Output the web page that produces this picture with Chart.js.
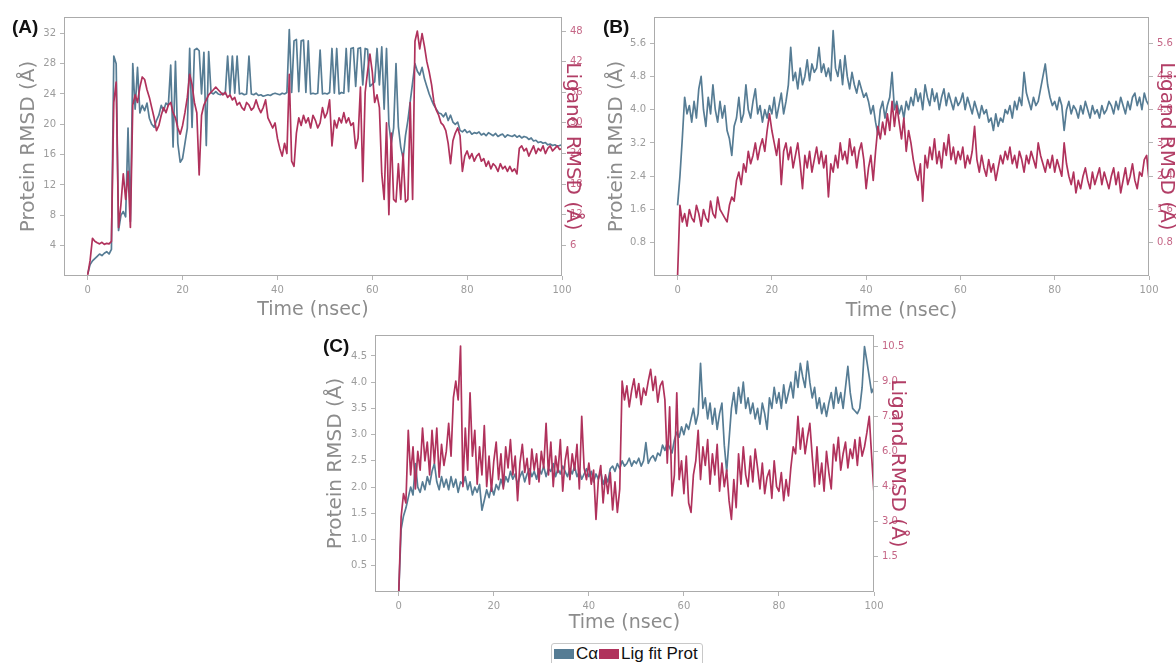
<!DOCTYPE html>
<html>
<head>
<meta charset="utf-8">
<script src="https://cdn.jsdelivr.net/npm/chart.js@4.4.1/dist/chart.umd.min.js"></script>
<style>
  html, body { margin: 0; padding: 0; background: #fff; overflow: hidden; }
  body { width: 1176px; height: 663px; position: relative; }
  .panel { position: absolute; }
  .tag { position: absolute; font: bold 19px 'Liberation Sans', Arial, sans-serif; line-height: 19px; color: #111; }
  #legend {
    position: absolute; left: 551px; top: 643px; height: 24px;
    border: 1px solid #c8c8c8; border-radius: 3px; background: #fff;
    padding: 1px 4px 0 1px; white-space: nowrap;
    font: 17px 'Liberation Sans', Arial, sans-serif; line-height: 17px; color: #111;
  }
  #legend .sw { display: inline-block; width: 20px; height: 10px; margin: 0 2px 0 1px; }
</style>
</head>
<body>
<div class="panel" style="left:0;top:0;width:590px;height:325px"><canvas id="chartA"></canvas></div>
<div class="panel" style="left:590px;top:0;width:590px;height:325px"><canvas id="chartB"></canvas></div>
<div class="panel" style="left:311px;top:325px;width:600px;height:315px"><canvas id="chartC"></canvas></div>
<div class="tag" style="left:12px;top:17px">(A)</div>
<div class="tag" style="left:603px;top:17px">(B)</div>
<div class="tag" style="left:323px;top:336px">(C)</div>
<div id="legend"><span class="sw" style="background:rgb(86,124,148)"></span>Cα<span class="sw" style="background:rgb(176,50,92)"></span>Lig fit Prot</div>

<script>
// frames sampled every 0.5 ns, 0 .. 100 ns
var TIME_STEP = 0.5;
var xTickValues = [0, 20, 40, 60, 80, 100];

// (A) Protein C-alpha RMSD (left axis) and ligand RMSD (right axis)
var panelATicksLeft = [4, 8, 12, 16, 20, 24, 28, 32];
var panelATicksRight = [6, 12, 18, 24, 30, 36, 42, 48];
var panelACa = [
  0.3, 1.5, 2.0, 2.3, 2.6, 2.9, 2.7, 3.0, 3.2, 2.9, 3.5, 29.0, 28.0, 6.0, 8.0, 8.5, 7.8, 19.5, 7.2, 28.0,
  22.0, 27.5, 21.5, 22.5, 21.8, 22.8, 20.8, 20.0, 19.6, 20.5, 21.2, 22.5, 21.8, 22.8, 22.5, 27.8, 17.0, 28.3, 17.5, 15.0,
  15.5, 17.5, 19.5, 30.0, 19.6, 29.8, 30.0, 29.7, 24.0, 29.5, 17.2, 29.6, 24.2, 24.0, 24.3, 24.0, 23.9, 24.1, 24.0, 29.0,
  24.0, 29.0, 24.1, 29.0, 24.0, 24.1, 23.9, 24.0, 29.0, 24.0, 23.9, 24.1, 23.8, 23.9, 23.7, 23.8, 23.9, 23.8, 24.0, 24.1,
  24.0, 23.9, 24.1, 24.0, 24.2, 32.5, 24.2, 31.0, 31.2, 24.3, 31.0, 31.1, 24.2, 31.0, 24.0, 24.1, 24.0, 24.1, 29.8, 24.0,
  24.1, 24.0, 24.2, 30.0, 24.1, 30.0, 24.0, 24.2, 24.1, 30.0, 24.3, 30.0, 30.1, 25.0, 30.0, 30.1, 25.2, 30.0, 29.9, 25.0,
  25.3, 25.6, 30.0, 25.2, 30.2, 22.0, 30.0, 20.0, 17.5, 19.5, 28.0, 19.7, 17.0, 15.5, 18.5, 20.5, 23.0, 25.5, 28.0, 27.0,
  26.5, 27.5, 26.0, 25.0, 24.0, 23.2, 22.5, 22.0, 21.5, 21.4, 21.0, 21.5, 20.5, 21.2, 20.3, 20.0, 20.3, 19.2, 19.0, 19.3,
  18.9, 19.1, 18.7, 18.9, 18.8, 19.0, 18.6, 18.8, 18.5, 18.9, 18.7, 18.5, 18.8, 18.4, 18.6, 18.7, 18.3, 18.6, 18.5, 18.4,
  18.6, 18.3, 18.5, 18.2, 18.4, 18.3, 18.0, 18.2, 17.8, 17.9, 17.6, 17.7, 17.5, 17.6, 17.3, 17.4, 17.2, 17.3, 17.1, 17.2, 17.3
];
var panelALig = [
  0.2, 3.0, 7.4, 6.8, 6.5, 6.3, 6.6, 6.2, 6.4, 6.3, 6.8, 34.0, 38.0, 9.5, 14.0, 20.0, 15.0, 20.5, 9.5, 33.5,
  35.5, 34.0, 37.0, 39.0, 38.5, 36.5, 35.0, 33.0, 31.0, 28.5, 29.5, 31.5, 33.0, 32.0, 33.5, 34.0, 32.0, 31.0, 29.0, 27.8,
  29.5, 32.0, 35.0, 39.5, 37.5, 34.0, 32.0, 19.8, 31.5, 33.5, 34.5, 35.5, 36.0, 36.5, 37.0, 36.5, 36.0, 35.5, 36.0, 35.0,
  35.5, 34.5, 35.0, 33.5, 34.0, 33.0, 32.5, 34.0, 33.5, 32.5, 33.0, 34.5, 33.0, 32.0, 33.0, 34.5, 31.0, 30.0, 29.0, 30.0,
  27.0, 25.0, 23.5, 26.0, 24.0, 39.5, 22.5, 21.5, 28.0, 31.0, 29.5, 31.5, 30.0, 31.0, 29.0, 31.5, 30.5, 29.0, 30.0, 33.0,
  31.0, 32.0, 34.5, 25.5, 30.5, 29.0, 31.0, 30.0, 32.0, 30.0, 31.0, 29.5, 30.0, 25.0, 27.0, 37.0, 18.5, 36.0, 40.0, 43.5,
  40.0, 34.0, 35.5, 33.0, 20.0, 15.0, 30.0, 12.0, 28.0, 15.0, 14.5, 22.0, 15.0, 24.0, 14.5, 15.0, 34.0, 15.0, 46.0, 48.0,
  44.5, 47.5, 45.0, 42.0, 40.0, 37.5, 34.0, 32.5, 31.5, 30.0, 29.5, 28.5, 26.0, 22.0, 26.5, 28.0, 29.0, 27.5, 20.5, 23.5,
  24.5, 23.0, 24.0, 22.5, 23.5, 24.0, 22.5, 23.0, 21.5, 22.5, 21.0, 22.0, 21.5, 20.5, 22.0, 21.0, 21.5, 20.5, 21.5, 20.5,
  21.0, 20.0, 25.0, 25.5, 24.5, 25.0, 23.5, 24.5, 25.5, 24.0, 25.0, 24.5, 25.5, 24.0, 25.0, 25.5, 24.5, 25.0, 25.5, 24.8, 25.0
];

// (B)
var panelBTicks = [0.8, 1.6, 2.4, 3.2, 4.0, 4.8, 5.6];
var panelBCa = [
  1.7, 2.4, 3.3, 4.3, 3.9, 4.1, 3.7, 4.2, 3.8, 4.5, 4.8, 4.0, 3.6, 4.3, 3.9, 4.6, 4.0, 3.7, 4.2, 3.8,
  4.1, 3.5, 3.3, 2.9, 3.6, 3.8, 4.3, 3.7, 3.9, 4.6, 4.0, 3.8, 4.2, 4.5, 3.9, 4.1, 3.7, 4.0, 3.8, 4.1,
  3.9, 4.3, 3.8, 4.1, 4.4, 3.9, 4.2, 4.6, 5.5, 4.7, 4.9, 4.5, 5.0, 4.6, 4.8, 5.2, 4.7, 5.1, 4.9, 5.0,
  5.5, 4.9, 5.1, 4.8, 5.0, 4.7, 5.9, 5.0, 4.8, 5.2, 4.6, 5.3, 4.8, 4.5, 4.9, 4.6, 4.4, 4.7, 4.5, 4.3,
  4.4, 4.2, 3.9, 4.1, 3.7, 3.4, 4.0, 4.2, 3.8, 4.1, 4.3, 4.9, 4.0, 4.2, 3.9, 4.1, 3.8, 4.2, 4.0, 4.3,
  4.1, 4.5, 4.2, 4.4, 4.0, 4.6, 4.3, 4.1, 4.5, 4.2, 4.4, 4.0, 4.3, 4.5, 4.1, 4.4, 4.2, 4.0, 4.3, 4.1,
  4.2, 4.4, 4.0, 4.3, 4.1, 3.9, 4.2, 4.0, 3.8, 4.1, 3.9, 4.0, 3.7, 3.8, 3.5, 3.9, 3.6, 3.8, 3.7, 4.0,
  3.9, 4.1, 3.8, 4.2, 4.0, 4.3, 4.1, 4.9, 4.4, 4.2, 4.0, 4.3, 4.1, 4.2, 4.5, 4.8, 5.1, 4.6, 4.3, 4.1,
  4.2, 4.0, 4.3, 4.1, 3.5, 4.0, 4.2, 3.9, 4.1, 4.0, 3.8, 4.1, 3.9, 4.2, 4.0, 3.8, 4.1, 3.9, 4.0, 3.8,
  4.1, 3.9, 4.0, 4.2, 4.1, 3.9, 4.2, 4.0, 4.3, 4.1, 3.9, 4.2, 4.0, 4.3, 4.4, 4.1, 4.3, 4.0, 4.4, 4.2, 4.1
];
var panelBLig = [
  0.0, 1.7, 1.3, 1.5, 1.2, 1.6, 1.4, 1.3, 1.7, 1.5, 1.2, 1.6, 1.4, 1.3, 1.8, 1.5, 1.4, 1.9, 1.6, 1.5,
  1.4, 1.3, 1.7, 1.9, 1.8, 2.3, 2.5, 2.2, 2.7, 2.5, 3.0, 2.7, 2.9, 3.2, 2.8, 3.1, 3.3, 3.0, 3.5, 3.9,
  3.5, 3.2, 2.9, 3.3, 2.2, 3.0, 3.2, 2.8, 3.1, 2.6, 2.9, 3.2, 2.7, 2.1, 2.9, 2.6, 3.0, 2.5, 2.8, 3.1,
  2.7, 3.0, 2.6, 2.9, 1.9, 2.7, 2.5, 2.9, 2.6, 3.2, 2.8, 3.0, 2.7, 3.3, 2.9, 3.1, 2.6, 3.0, 3.2, 2.8,
  2.1, 2.6, 2.9, 2.3, 3.0, 3.6, 3.3, 3.7, 3.4, 3.9, 3.5, 4.2, 3.6, 4.1, 3.7, 3.3, 3.8, 3.0, 3.5, 3.2,
  2.8, 2.5, 2.3, 2.7, 1.8, 2.9, 2.6, 3.1, 2.8, 3.3, 2.7, 3.0, 2.6, 3.2, 2.9, 3.4, 2.8, 3.1, 2.7, 3.0,
  2.8, 3.1, 2.6, 2.9, 2.7, 3.0, 3.6, 2.8, 2.5, 2.9, 2.6, 2.4, 2.8, 2.5, 2.7, 2.3, 2.6, 2.9, 2.7, 3.0,
  2.8, 3.1, 2.7, 2.9, 2.6, 3.0, 2.8, 2.5, 2.9, 2.7, 3.0, 2.8, 2.6, 3.2, 2.9, 2.7, 2.5, 2.8, 2.6, 2.9,
  2.5, 2.8, 2.6, 2.4, 3.2, 2.7, 2.4, 2.2, 2.5, 2.0, 2.3, 2.1, 2.4, 2.6, 2.3, 2.1, 2.5, 2.2, 2.4, 2.6,
  2.2, 2.5, 2.3, 2.1, 2.4, 2.6, 2.2, 2.5, 2.0, 2.3, 2.6, 2.2, 2.4, 2.7, 2.3, 2.1, 2.5, 2.4, 2.8, 2.9, 2.3
];

// (C)
var panelCTicksLeft = [0.5, 1.0, 1.5, 2.0, 2.5, 3.0, 3.5, 4.0, 4.5];
var panelCTicksRight = [1.5, 3.0, 4.5, 6.0, 7.5, 9.0, 10.5];
var panelCCa = [
  0.0, 1.2, 1.45, 1.6, 1.8, 2.0, 1.85, 2.45, 2.0, 1.9, 2.1, 1.95, 2.2, 2.05, 2.3, 2.45, 2.1, 1.95, 2.2, 2.0,
  2.15, 1.95, 2.2, 2.0, 2.15, 1.9, 2.1, 2.05, 2.2, 1.95, 2.1, 1.85, 2.0, 1.9, 2.05, 1.56, 1.75, 1.95, 1.8, 2.0,
  1.85, 2.05, 1.95, 2.15, 2.0, 2.2, 2.1, 2.3, 2.15, 2.25, 2.05, 2.2, 2.3, 2.1, 2.25, 2.35, 2.2, 2.3, 2.15, 2.35,
  2.25, 2.4, 2.2, 2.35, 2.3, 2.45, 2.2, 2.35, 2.25, 2.4, 2.3, 2.2, 2.35, 2.25, 2.4, 2.2, 2.3, 2.15, 2.25, 2.35,
  2.2, 2.3, 2.1, 2.25, 2.15, 2.3, 2.05, 2.2, 2.1, 2.35, 2.4, 2.3, 2.45, 2.35, 2.5, 2.4, 2.45, 2.55, 2.4, 2.5,
  2.45, 2.55, 2.4, 2.5, 2.85, 2.45, 2.55, 2.6, 2.5, 2.65, 2.6, 2.8, 2.7, 2.85, 2.75, 2.65, 2.9, 3.05, 2.95, 3.15,
  3.0, 3.2, 3.1, 3.3, 3.5, 3.2, 3.4, 4.36, 3.5, 3.7, 3.3, 3.6, 3.2, 3.5, 3.1, 3.4, 3.6, 2.8, 2.3, 2.9,
  3.5, 3.8, 3.4, 3.9, 3.6, 4.0, 3.5, 3.7, 3.4, 3.6, 3.3, 3.5, 3.2, 3.6, 3.4, 3.1, 3.7, 3.5, 3.9, 3.6,
  3.8, 3.5, 3.95, 3.6, 3.8, 4.0, 3.7, 4.2, 3.9, 4.36, 4.1, 3.9, 4.4, 4.0, 3.7, 3.9, 3.5, 3.7, 3.4, 3.6,
  3.35, 3.6, 3.8, 3.5, 3.9, 3.6, 3.8, 3.5, 3.9, 4.3, 3.8, 3.5, 3.45, 3.4, 3.5, 3.9, 4.68, 4.4, 4.1, 3.8, 3.9
];
var panelCLig = [
  0.0, 3.2, 4.2, 3.8, 6.9, 5.0, 6.2, 4.4, 6.0, 5.2, 7.0, 5.6, 6.4, 5.0, 6.9, 5.5, 7.0, 4.9, 6.3, 5.4,
  6.0, 7.2, 5.8, 8.3, 9.0, 8.2, 10.5, 4.5, 7.0, 5.2, 8.5, 5.8, 6.9, 4.6, 6.2, 5.0, 7.1, 4.5, 5.8, 4.3,
  5.6, 6.4, 4.8, 5.9, 4.4, 6.2, 5.3, 6.5, 5.0, 5.8, 3.9, 5.5, 6.3, 5.1, 5.7, 4.6, 6.1, 5.2, 5.9, 4.7,
  6.0, 5.3, 7.2, 5.0, 6.4, 4.5, 5.8, 5.1, 6.5, 4.3, 5.6, 6.2, 4.8, 5.9, 5.2, 6.3, 4.4, 7.5, 5.3, 4.8,
  5.5, 4.6, 5.2, 3.1, 4.8, 5.4, 3.8, 5.0, 4.2, 5.1, 3.5, 4.7, 3.4, 4.4, 9.0, 8.2, 8.8, 7.9, 8.6, 9.1,
  8.3, 8.9, 8.0, 8.7, 8.4, 9.0, 9.5, 8.6, 9.2, 8.1, 8.8, 9.0, 8.2, 5.5, 7.9, 4.1, 5.0, 8.5, 4.8, 5.6,
  4.2, 5.8, 3.8, 3.4, 5.0, 5.6, 6.9, 4.8, 6.2, 5.4, 6.5, 4.6, 5.9, 5.0, 6.3, 4.3, 5.5, 4.5, 5.2, 3.9,
  3.1, 4.8, 3.6, 5.9, 4.6, 6.2, 5.0, 4.5, 5.8, 4.7, 6.1, 5.3, 4.4, 5.5, 4.2, 4.9, 5.2, 4.0, 5.6, 4.5,
  4.3, 5.1, 3.9, 4.8, 4.1, 5.3, 6.2, 5.9, 7.5, 6.1, 7.0, 5.9, 6.6, 7.2, 5.8, 4.5, 6.2, 4.6, 5.5, 4.3,
  6.0, 5.1, 4.4, 6.3, 5.6, 6.6, 5.2, 5.9, 6.4, 5.3, 6.1, 5.7, 6.5, 5.4, 6.6, 5.8, 6.2, 6.8, 7.5, 5.8, 4.2
];

var CA_COLOR = 'rgb(86, 124, 148)';
var LIG_COLOR = 'rgb(176, 50, 92)';
var FONT = 'DejaVu Sans';

function toPoints(values) {
  return values.map(function(v, i) { return { x: i * TIME_STEP, y: v }; });
}

// plain grey box round the plot area
var framePlugin = {
  id: 'frame',
  afterDraw: function(chart) {
    var a = chart.chartArea;
    var ctx = chart.ctx;
    ctx.save();
    ctx.strokeStyle = '#ababab';
    ctx.lineWidth = 1;
    ctx.strokeRect(Math.round(a.left) + 0.5, Math.round(a.top) + 0.5,
                   Math.round(a.right - a.left) - 1, Math.round(a.bottom - a.top) - 1);
    ctx.restore();
  }
};

function yAxis(p, side) {
  var left = side === 'left';
  var ticks = left ? p.ticksLeft : p.ticksRight;
  return {
    type: 'linear',
    position: side,
    min: 0,
    max: left ? p.maxLeft : p.maxRight,
    afterBuildTicks: function(s) { s.ticks = ticks.map(function(v) { return { value: v }; }); },
    afterFit: function(s) { s.width = left ? p.leftW : p.rightW; },
    grid: { drawOnChartArea: false, drawTicks: true, tickLength: 4, color: '#b5b5b5' },
    border: { display: false },
    ticks: {
      color: left ? '#9c9c9c' : 'rgba(176, 50, 92, 0.75)',
      font: { family: FONT, size: 10 },
      padding: 4,
      callback: function(v) { return v.toFixed(p.decimals); }
    },
    title: {
      display: true,
      text: left ? 'Protein RMSD (Å)' : 'Ligand RMSD (Å)',
      color: left ? '#8c8c8c' : 'rgb(178, 62, 102)',
      font: { family: FONT, size: 20 },
      padding: { top: left ? p.leftTitlePad : p.rightTitlePad, bottom: 0 }
    }
  };
}

function makePanel(canvasId, p) {
  return new Chart(document.getElementById(canvasId), {
    type: 'line',
    data: {
      datasets: [{
        label: 'Lig fit Prot',
        data: toPoints(p.lig),
        yAxisID: 'y1',
        borderColor: LIG_COLOR,
        order: 0
      }, {
        label: 'Cα',
        data: toPoints(p.ca),
        yAxisID: 'y',
        borderColor: CA_COLOR,
        order: 1
      }]
    },
    options: {
      responsive: true,
      maintainAspectRatio: false,
      animation: false,
      devicePixelRatio: 1,
      layout: { padding: { top: p.padTop, left: 0, right: 0, bottom: 0 } },
      elements: {
        point: { radius: 0 },
        line: { borderWidth: 1.7, tension: 0, borderJoinStyle: 'round' }
      },
      plugins: { legend: { display: false }, tooltip: { enabled: false } },
      scales: {
        x: {
          type: 'linear',
          min: -5,
          max: 100,
          afterBuildTicks: function(s) { s.ticks = xTickValues.map(function(v) { return { value: v }; }); },
          afterFit: function(s) { s.height = p.xH; },
          grid: { drawOnChartArea: false, drawTicks: true, tickLength: 4, color: '#b5b5b5' },
          border: { display: false },
          ticks: { color: '#9c9c9c', font: { family: FONT, size: 10 }, padding: 4, maxRotation: 0, autoSkip: false },
          title: {
            display: true,
            text: 'Time (nsec)',
            color: '#8c8c8c',
            font: { family: FONT, size: 19 },
            padding: { top: 0, bottom: p.xTitlePad }
          }
        },
        y: yAxis(p, 'left'),
        y1: yAxis(p, 'right')
      }
    },
    plugins: [framePlugin]
  });
}

makePanel('chartA', {
  ca: panelACa, lig: panelALig,
  ticksLeft: panelATicksLeft, ticksRight: panelATicksRight,
  maxLeft: 34.15, maxRight: 50.75, decimals: 0,
  padTop: 17, leftW: 64, rightW: 28, xH: 49,
  leftTitlePad: 17, rightTitlePad: 6, xTitlePad: 4
});

makePanel('chartB', {
  ca: panelBCa, lig: panelBLig,
  ticksLeft: panelBTicks, ticksRight: panelBTicks,
  maxLeft: 6.23, maxRight: 6.23, decimals: 1,
  padTop: 17, leftW: 64, rightW: 31, xH: 49,
  leftTitlePad: 15, rightTitlePad: 2, xTitlePad: 3
});

makePanel('chartC', {
  ca: panelCCa, lig: panelCLig,
  ticksLeft: panelCTicksLeft, ticksRight: panelCTicksRight,
  maxLeft: 4.9, maxRight: 10.97, decimals: 1,
  padTop: 10, leftW: 64, rightW: 37, xH: 48,
  leftTitlePad: 13, rightTitlePad: 2, xTitlePad: 6
});
</script>
</body>
</html>
